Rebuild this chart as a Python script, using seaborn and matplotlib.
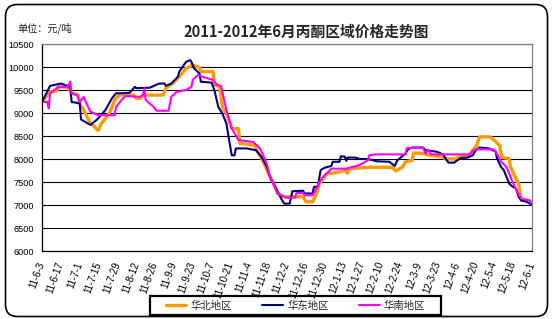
import matplotlib
matplotlib.use("Agg")
import matplotlib.pyplot as plt
import numpy as np
import pandas as pd
import seaborn as sns
from matplotlib.patches import FancyBboxPatch, Rectangle
from matplotlib.transforms import IdentityTransform

# ---------------- data ----------------
title = "2011-2012年6月丙酮区域价格走势图"
unit_label = "单位：元/吨"
series_names = ["华北地区", "华东地区", "华南地区"]
start_date = "2011-06-03"
end_day = 364
tick_labels = ["11-6-3", "11-6-17", "11-7-1", "11-7-15", "11-7-29", "11-8-12",
               "11-8-26", "11-9-9", "11-9-23", "11-10-7", "11-10-21", "11-11-4",
               "11-11-18", "11-12-2", "11-12-16", "11-12-30", "12-1-13", "12-1-27",
               "12-2-10", "12-2-24", "12-3-9", "12-3-23", "12-4-6", "12-4-20",
               "12-5-4", "12-5-18", "12-6-1"]
y_ticks = [6000, 6500, 7000, 7500, 8000, 8500, 9000, 9500, 10000, 10500]

# 华北地区 (days after start, price)
north_days = [0, 3, 6, 11, 12, 19, 22, 27, 28, 31, 36, 38, 41, 42, 44, 50, 54, 57, 68, 70,
              73, 75, 90, 92, 97, 102, 107, 112, 117, 118, 127, 128, 132, 134, 137, 141, 146,
              147, 158, 160, 164, 168, 171, 175, 179, 194, 196, 201, 204, 206, 209, 212, 216,
              221, 225, 227, 228, 243, 260, 263, 268, 270, 275, 276, 283, 288, 297, 300, 307,
              310, 317, 320, 323, 325, 333, 337, 340, 341, 342, 347, 348, 352, 354, 356, 362, 364]
north_price = [9240, 9350, 9460, 9480, 9570, 9560, 9430, 9390, 9210, 9060, 8770, 8740, 8630, 8630,
               8770, 8990, 9280, 9390, 9390, 9320, 9320, 9390, 9390, 9540, 9640, 9790, 9970, 10040,
               9990, 9900, 9900, 9610, 9570, 9130, 8990, 8660, 8660, 8340, 8300, 8160, 7970, 7690,
               7540, 7250, 7180, 7180, 7070, 7070, 7250, 7470, 7580, 7690, 7690, 7720, 7760, 7690,
               7790, 7820, 7820, 7740, 7830, 7940, 7970, 8130, 8120, 8080, 8050, 8000, 8000, 8050,
               8060, 8190, 8300, 8480, 8480, 8380, 8290, 8120, 8030, 8010, 7830, 7580, 7470, 7100,
               7100, 7020]

# 华东地区
east_days = [0, 6, 14, 21, 22, 28, 29, 36, 41, 47, 52, 55, 60, 65, 69, 70, 80, 87, 91, 92, 96,
             101, 102, 107, 110, 111, 113, 117, 118, 126, 128, 131, 134, 137, 139, 141, 143, 144,
             152, 159, 163, 167, 170, 174, 178, 180, 184, 186, 194, 195, 201, 202, 205, 207, 210,
             215, 216, 221, 222, 225, 226, 227, 233, 236, 242, 249, 258, 262, 264, 270, 272, 275,
             283, 285, 293, 298, 300, 302, 306, 311, 316, 320, 322, 325, 332, 337, 338, 341, 343,
             347, 349, 352, 354, 356, 359, 364]
east_price = [9240, 9590, 9640, 9570, 9240, 9210, 8860, 8740, 8860, 9060, 9320, 9430, 9430, 9440,
              9570, 9540, 9550, 9640, 9640, 9590, 9640, 9790, 9900, 10110, 10150, 10110, 9970,
              9860, 9680, 9660, 9500, 9130, 8990, 8770, 8410, 8080, 8080, 8230, 8230, 8190, 8050,
              7830, 7560, 7360, 7120, 7030, 7030, 7300, 7310, 7250, 7250, 7390, 7410, 7760, 7810,
              7850, 7940, 7940, 8060, 8050, 7960, 8030, 8030, 8000, 8000, 7950, 7940, 7850, 7970,
              8120, 8210, 8250, 8250, 8190, 8160, 8100, 8000, 7920, 7920, 8020, 8030, 8080, 8180,
              8250, 8230, 8160, 8010, 7830, 7760, 7470, 7410, 7360, 7180, 7100, 7080, 7010]

# 华南地区
south_days = [0, 4, 5, 6, 11, 12, 19, 21, 22, 26, 28, 31, 33, 36, 42, 54, 55, 59, 62, 73, 75, 76,
              77, 83, 85, 94, 96, 100, 107, 111, 112, 116, 118, 127, 130, 133, 137, 141, 146, 157,
              162, 167, 169, 172, 175, 178, 181, 188, 189, 194, 195, 201, 204, 206, 209, 212, 215,
              226, 236, 242, 243, 248, 270, 271, 283, 285, 287, 289, 318, 320, 322, 335, 337, 340,
              341, 345, 347, 349, 353, 356, 362, 364]
south_price = [9240, 9240, 9100, 9430, 9540, 9570, 9560, 9680, 9430, 9390, 9240, 9350, 9210, 9030,
               8950, 8950, 9130, 9280, 9370, 9350, 9390, 9540, 9280, 9130, 9050, 9050, 9350, 9460,
               9500, 9570, 9720, 9830, 9800, 9720, 9610, 9590, 9060, 8660, 8410, 8370, 8230, 7900,
               7650, 7450, 7250, 7210, 7160, 7160, 7260, 7260, 7210, 7210, 7360, 7500, 7620, 7700,
               7790, 7790, 7870, 7970, 8080, 8100, 8100, 8240, 8240, 8120, 8200, 8100, 8100, 8180,
               8210, 8210, 8160, 8010, 7940, 7830, 7690, 7540, 7280, 7140, 7100, 7030]

colors = ["#FF9900", "#000080", "#FF00FF"]
widths = [2.4, 1.5, 1.5]

# ---------------- figure ----------------
sns.set_style("white")
plt.rcParams["font.family"] = ["Liberation Sans", "Noto Sans CJK SC", "DejaVu Sans"]
cjk = ["Noto Sans CJK SC", "DejaVu Sans"]

W, H = 553, 319
fig = plt.figure(figsize=(W / 100, H / 100), dpi=100)
fig.patch.set_facecolor("white")

# rounded outer frame
frame = FancyBboxPatch((5.5, 2.5), 542, 312, boxstyle="round,pad=0,rounding_size=12",
                       transform=IdentityTransform(), facecolor="none",
                       edgecolor="black", linewidth=1.2)
fig.add_artist(frame)

L, R, T, B = 42, 532, 44, 251
ax = fig.add_axes([L / W, 1 - B / H, (R - L) / W, (B - T) / H])

start = pd.Timestamp(start_date)
frames = []
for name, d, p in [(series_names[0], north_days, north_price),
                   (series_names[1], east_days, east_price),
                   (series_names[2], south_days, south_price)]:
    frames.append(pd.DataFrame({"date": start + pd.to_timedelta(d, unit="D"),
                                "price": p, "region": name}))
df = pd.concat(frames, ignore_index=True)

for name, c, lw in zip(series_names, colors, widths):
    sns.lineplot(data=df[df["region"] == name], x="date", y="price", color=c,
                 linewidth=lw, label=name, ax=ax, sort=False, estimator=None)

ax.set_xlim(start, start + pd.Timedelta(days=end_day))
ax.set_ylim(y_ticks[0], y_ticks[-1])
ax.set_yticks(y_ticks)
ax.set_yticklabels([str(v) for v in y_ticks], fontsize=6.6)
ax.tick_params(axis="y", length=0, pad=6, colors="black")

xt = pd.date_range(start, periods=len(tick_labels), freq="14D")
ax.set_xticks(xt)
ax.set_xticklabels(tick_labels, rotation=70, ha="right", va="center",
                   rotation_mode="anchor", fontsize=7)
ax.tick_params(axis="x", direction="in", length=3, width=0.8, pad=8, colors="black")

ax.yaxis.grid(True, color="black", linewidth=0.8)
ax.xaxis.grid(False)
ax.set_xlabel("")
ax.set_ylabel("")
for s in ["left", "bottom"]:
    ax.spines[s].set_color("black")
    ax.spines[s].set_linewidth(0.9)
for s in ["top", "right"]:
    ax.spines[s].set_color("#808080")
    ax.spines[s].set_linewidth(0.9)

# title and unit
fig.text(306 / W, 1 - 32 / H, title, ha="center", va="center", fontsize=10.6,
         fontweight="bold", family=cjk)
fig.text(17 / W, 1 - 28 / H, unit_label, ha="left", va="center", fontsize=7.3,
         family=cjk, color="#222222")

# legend
leg = ax.legend(loc="center", bbox_to_anchor=(295.5 / W, 1 - 305.5 / H),
                bbox_transform=fig.transFigure, ncol=3, frameon=False,
                handlelength=2.0, handletextpad=0.4, columnspacing=2.9,
                prop={"family": cjk, "size": 7.5})
fig.add_artist(Rectangle((150 / W, 1 - 315 / H), 291 / W, 19 / H,
                         transform=fig.transFigure, facecolor="none",
                         edgecolor="black", linewidth=1.6))

fig.savefig("out.png", dpi=100)
